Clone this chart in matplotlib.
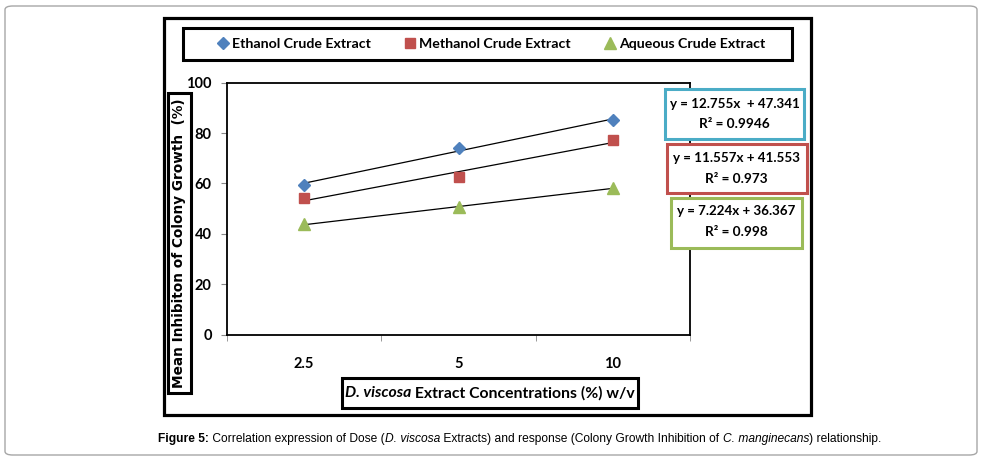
import matplotlib
matplotlib.use("Agg")
import matplotlib.pyplot as plt
import numpy as np
from matplotlib.patches import Rectangle, FancyBboxPatch

# data
concentrations = ["2.5", "5", "10"]
ethanol = [59.55, 73.94, 85.06]
methanol = [54.22, 62.44, 77.34]
aqueous = [43.78, 50.44, 58.23]
series_names = ["Ethanol Crude Extract", "Methanol Crude Extract", "Aqueous Crude Extract"]
equations = ["y = 12.755x  + 47.341", "y = 11.557x + 41.553", "y = 7.224x + 36.367"]
r_squared = ["R\u00b2 = 0.9946", "R\u00b2 = 0.973", "R\u00b2 = 0.998"]

W, H = 983, 459
CHART_FONT = ["Lato", "DejaVu Sans"]
CAP_FONT = ["Liberation Sans", "DejaVu Sans"]

def fx(px):
    return px / W

def fy(py):
    return 1 - py / H

fig = plt.figure(figsize=(W / 100, H / 100), dpi=100)
fig.patch.set_facecolor("white")
renderer = fig.canvas.get_renderer()

# outer frame + chart border
fig.patches.append(FancyBboxPatch((fx(5), fy(455)), fx(972), (455 - 6) / H,
                                  boxstyle="round,pad=0,rounding_size=0.008",
                                  transform=fig.transFigure, fill=False, ec="#a6a6a6", lw=1,
                                  zorder=-5))
fig.patches.append(Rectangle((fx(164), fy(415)), fx(811 - 164), (415 - 18) / H,
                             transform=fig.transFigure, fill=False, ec="black", lw=2.3))

ax = fig.add_axes([fx(227), fy(334.5), fx(690 - 227), (334.5 - 82.7) / H])
x = np.arange(1, len(concentrations) + 1)

colors = ["#4F81BD", "#C0504D", "#9BBB59"]
markers = ["D", "s", "^"]
msizes = [6.5, 7.5, 8]
handles = []
for ys, c, m, ms, name in zip([ethanol, methanol, aqueous], colors, markers, msizes, series_names):
    ys = np.array(ys)
    slope, icpt = np.polyfit(x, ys, 1)
    ax.plot(x, slope * x + icpt, color="black", lw=0.9, zorder=2)
    h, = ax.plot(x, ys, ls="none", marker=m, color=c, ms=ms, zorder=3, label=name)
    handles.append(h)

ax.set_xlim(0.5, 3.5)
ax.set_ylim(0, 100)
ax.set_yticks(np.arange(0, 101, 20))
ax.set_xticks(x)
ax.set_xticklabels(concentrations)
ax.set_xticks(np.arange(0.5, 3.6, 1), minor=True)
ax.tick_params(axis="x", which="major", length=0, pad=16)
ax.tick_params(axis="x", which="minor", length=4.5, color="#888888", direction="out")
ax.tick_params(axis="y", length=4, color="#888888", pad=7)
for lab in ax.get_xticklabels() + ax.get_yticklabels():
    lab.set_family(CHART_FONT)
    lab.set_fontweight("bold")
    lab.set_fontsize(10.5)
for sp in ax.spines.values():
    sp.set_color("black")
    sp.set_linewidth(1.3)

# legend in its own box
fig.patches.append(Rectangle((fx(183), fy(60)), fx(792 - 183), (60 - 27.5) / H,
                             transform=fig.transFigure, fill=False, ec="black", lw=2.2))
leg = fig.legend(handles=handles, loc="center", bbox_to_anchor=(fx(492), fy(44)), ncol=3,
                 frameon=False, handlelength=0.6, handletextpad=0.3, columnspacing=2.5,
                 prop={"family": CHART_FONT, "weight": "bold", "size": 10.2})

# equation boxes
eq_boxes = [(665, 804, 89.5, 139), (667, 806.5, 144, 192.5), (670.5, 801.5, 197.5, 248)]
edge_cols = ["#4BACC6", "#C0504D", "#9BBB59"]
for (l, r, t, b), ec, eq, r2 in zip(eq_boxes, edge_cols, equations, r_squared):
    fig.patches.append(Rectangle((fx(l), fy(b)), fx(r - l), (b - t) / H,
                                 transform=fig.transFigure, fc="white", ec=ec, lw=2.2))
    cx = (l + r) / 2
    fig.text(fx(cx), fy(t + 14), eq, ha="center", va="center", family=CHART_FONT,
             weight="bold", size=9.6)
    fig.text(fx(cx), fy(t + 35), r2, ha="center", va="center", family=CHART_FONT,
             weight="bold", size=9.8)

# y label
fig.patches.append(Rectangle((fx(167.5), fy(393)), fx(190.5 - 167.5), (393 - 93) / H,
                             transform=fig.transFigure, fill=False, ec="black", lw=2.2))
fig.text(fx(179.5), fy(243), "Mean Inhibiton of Colony Growth  (%)", rotation=90,
         ha="center", va="center", family="DejaVu Sans", weight="bold", size=9.8)


def piece_width(s, **kw):
    a = fig.text(0, 0, "x" + s + "x", **kw)
    b = fig.text(0, 0, "xx", **kw)
    w = a.get_window_extent(renderer).width - b.get_window_extent(renderer).width
    a.remove()
    b.remove()
    return w


def rich_text(cx, cy, parts, **common):
    widths = [piece_width(s, **common, **kw) for s, kw in parts]
    pos = cx - sum(widths) / 2
    for (s, kw), w in zip(parts, widths):
        fig.text(fx(pos), fy(cy), s, ha="left", va="center", **common, **kw)
        pos += w


# x label
fig.patches.append(Rectangle((fx(342), fy(408)), fx(638 - 342), (408 - 378) / H,
                             transform=fig.transFigure, fill=False, ec="black", lw=2.2))
rich_text(490, 393, [("D. viscosa", {"style": "italic"}),
                     (" Extract Concentrations (%) w/v", {})],
          family=CHART_FONT, weight="bold", size=11.3)

# caption
rich_text(520, 439, [("Figure 5:", {"weight": "bold"}),
                     (" Correlation expression of Dose (", {}),
                     ("D. viscosa", {"style": "italic"}),
                     (" Extracts) and response (Colony Growth Inhibition of ", {}),
                     ("C. manginecans", {"style": "italic"}),
                     (") relationship.", {})],
          family=CAP_FONT, size=8.65)

fig.savefig("out.png", dpi=100)
